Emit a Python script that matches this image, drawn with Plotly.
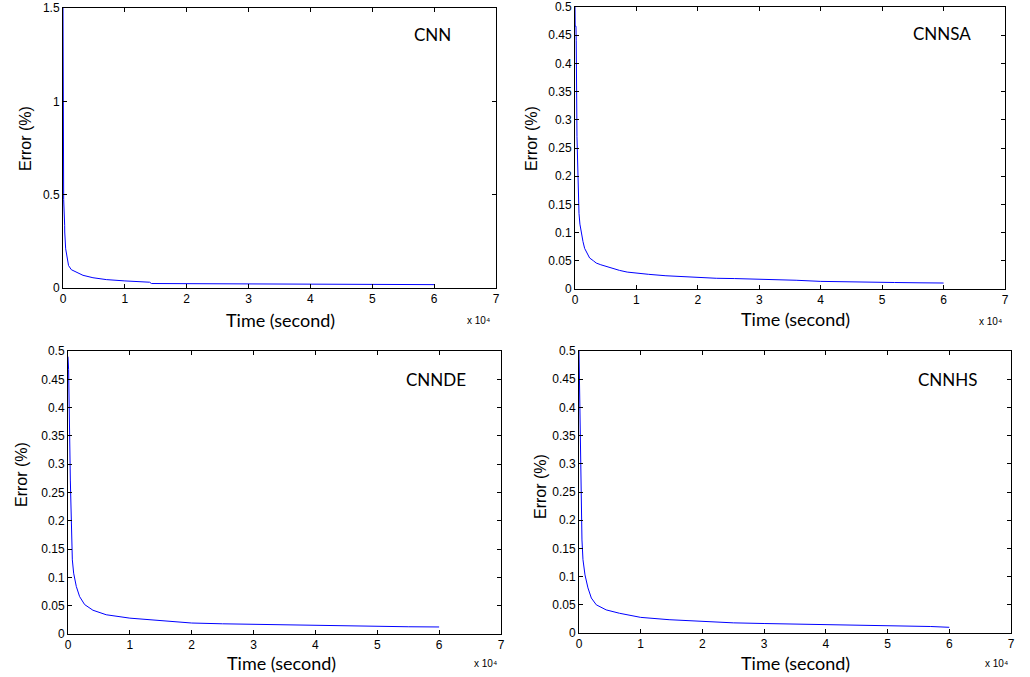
import plotly.graph_objects as go

W, H = 1030, 677

# ---------------- data ----------------
cnn_t = [0, 60, 100, 110, 270, 280, 430, 700, 900, 1350, 2150, 3230, 4840, 7000, 10000,
         14000, 14300, 20000, 25000, 30000, 35000, 40000, 45000, 50000, 55000, 60000]
cnn_err = [1.5, 0.655, 0.60, 0.474, 0.336, 0.30, 0.21, 0.166, 0.12, 0.098, 0.086, 0.068,
           0.055, 0.045, 0.038, 0.031, 0.024, 0.023, 0.022, 0.021, 0.020, 0.019, 0.019,
           0.018, 0.018, 0.018]

sa_t = [0, 30, 160, 200, 320, 490, 650, 800, 1030, 1300, 1570, 2000, 2380, 3000, 3460,
        4200, 5080, 6000, 7240, 8500, 10000, 12000, 14800, 17000, 20000, 23000, 26000,
        30000, 33000, 36000, 40000, 44000, 48000, 52000, 56000, 60000]
sa_err = [0.50, 0.466, 0.466, 0.44, 0.27, 0.172, 0.134, 0.115, 0.099, 0.084, 0.072, 0.062,
          0.055, 0.050, 0.046, 0.043, 0.040, 0.036, 0.033, 0.030, 0.028, 0.026, 0.0235,
          0.022, 0.0206, 0.019, 0.0185, 0.0176, 0.016, 0.0155, 0.0135, 0.0125, 0.012,
          0.0115, 0.011, 0.0106]

de_t = [0, 50, 100, 376, 538, 700, 914, 1344, 1880, 2690, 4030, 6180, 10000, 14800,
        20000, 25000, 30000, 35000, 40000, 45000, 50000, 55000, 60000]
de_err = [0.49, 0.467, 0.467, 0.272, 0.172, 0.131, 0.1075, 0.084, 0.066, 0.052, 0.042,
          0.034, 0.028, 0.0235, 0.0194, 0.018, 0.017, 0.0168, 0.0162, 0.015, 0.0138,
          0.0128, 0.0124]

hs_t = [0, 40, 100, 270, 480, 645, 970, 1450, 2000, 2800, 4400, 6560, 10000, 14600,
        20000, 25000, 30000, 35000, 40000, 45000, 50000, 55000, 57000, 60000]
hs_err = [0.50, 0.466, 0.466, 0.25, 0.165, 0.13, 0.103, 0.080, 0.062, 0.050, 0.041,
          0.035, 0.0277, 0.0236, 0.020, 0.018, 0.0168, 0.016, 0.014, 0.0135, 0.013,
          0.012, 0.0115, 0.0101]

x_tickvals = [0, 10000, 20000, 30000, 40000, 50000, 60000, 70000]
x_ticktext = ["0", "1", "2", "3", "4", "5", "6", "7"]
y1_tickvals = [0, 0.5, 1.0, 1.5]
y1_ticktext = ["0", "0.5", "1", "1.5"]
y2_tickvals = [0, 0.05, 0.1, 0.15, 0.2, 0.25, 0.3, 0.35, 0.4, 0.45, 0.5]
y2_ticktext = ["0", "0.05", "0.1", "0.15", "0.2", "0.25", "0.3", "0.35", "0.4", "0.45", "0.5"]

names = ["CNN", "CNNSA", "CNNDE", "CNNHS"]
series = [(cnn_t, cnn_err), (sa_t, sa_err), (de_t, de_err), (hs_t, hs_err)]

# ---------------- layout (pixel boxes) ----------------
boxes = [(63, 496, 8, 288), (575, 1005, 7, 289), (68, 501, 351, 634), (579, 1011, 351, 633)]
label_pos = [(432, 35), (942, 34), (436, 379), (948, 380)]
ytitle_pos = [(25, 139), (531, 139), (21, 475), (540, 487)]
xtitle_pos = [(280, 320), (795, 319), (281, 663), (795, 663)]
x10_pos = [(478, 320), (990, 321), (485, 663), (996, 663)]

fig = go.Figure()
layout = dict(width=W, height=H, margin=dict(l=0, r=0, t=0, b=0, pad=0, autoexpand=False),
              paper_bgcolor="white", plot_bgcolor="white", showlegend=False)
annotations = []

tickfont = dict(family="Liberation Sans, Arial, sans-serif", size=12, color="black")

for i, ((t, e), name, box) in enumerate(zip(series, names, boxes)):
    n = "" if i == 0 else str(i + 1)
    xa, ya = "x" + n, "y" + n
    fig.add_trace(go.Scatter(x=t, y=e, mode="lines", xaxis=xa, yaxis=ya,
                             line=dict(color="#0000ff", width=1), hoverinfo="skip"))
    l, r, tp, bt = box
    common = dict(showline=True, linecolor="black", linewidth=1, mirror="ticks",
                  ticks="inside", ticklen=4, tickcolor="black", showgrid=False,
                  zeroline=False, tickfont=tickfont, automargin=False)
    layout["xaxis" + n] = dict(domain=[l / W, r / W], anchor=ya, range=[0, 70000],
                               tickvals=x_tickvals, ticktext=x_ticktext, **common)
    if i == 0:
        yv, yt, yr = y1_tickvals, y1_ticktext, [0, 1.5]
    else:
        yv, yt, yr = y2_tickvals, y2_ticktext, [0, 0.5]
    layout["yaxis" + n] = dict(domain=[1 - bt / H, 1 - tp / H], anchor=xa, range=yr,
                               tickvals=yv, ticktext=yt, **common)

    lx, ly = label_pos[i]
    annotations.append(dict(text=name, x=lx / W, y=1 - ly / H, xref="paper", yref="paper",
                            showarrow=False, xanchor="center", yanchor="middle",
                            font=dict(family="Lato, Open Sans, sans-serif", size=17, color="black")))
    yx, yy = ytitle_pos[i]
    annotations.append(dict(text="Error (%)", x=yx / W, y=1 - yy / H, xref="paper", yref="paper",
                            showarrow=False, textangle=-90, xanchor="center", yanchor="middle",
                            font=dict(family="Liberation Sans, Arial, sans-serif", size=16, color="black")))
    tx, ty = xtitle_pos[i]
    annotations.append(dict(text="Time (second)", x=tx / W, y=1 - ty / H, xref="paper", yref="paper",
                            showarrow=False, xanchor="center", yanchor="middle",
                            font=dict(family="Lato, Open Sans, sans-serif", size=18, color="black")))
    qx, qy = x10_pos[i]
    annotations.append(dict(text="x 10⁴", x=qx / W, y=1 - qy / H, xref="paper", yref="paper",
                            showarrow=False, xanchor="center", yanchor="middle",
                            font=dict(family="Liberation Sans, Arial, sans-serif", size=10, color="black")))

layout["annotations"] = annotations
fig.update_layout(**layout)
fig.write_html("out.html", config={"displayModeBar": False},
               post_script="document.body.style.margin='0';document.body.style.overflow='hidden';")
